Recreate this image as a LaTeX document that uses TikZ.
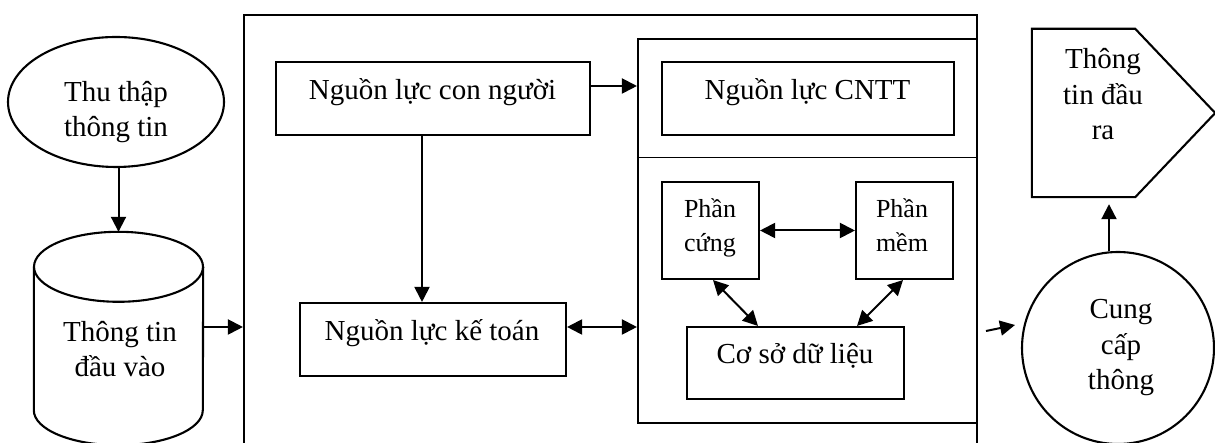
\documentclass[tikz,border=0pt]{standalone}
\usepackage{fontspec}
\setmainfont{Liberation Serif}
\usetikzlibrary{arrows.meta,shapes.geometric,calc}
\begin{document}
\begin{tikzpicture}[x=1pt,y=1pt,
  line join=miter,
  outline/.style={draw, line width=2.1pt},
  box/.style={outline, rectangle, inner sep=0pt},
  frame/.style={rectangle, inner sep=0pt},
  txt/.style={font=\fontsize{29}{35.5}\selectfont, align=center, anchor=base, inner sep=0pt},
  smalltxt/.style={font=\fontsize{26}{34}\selectfont, align=center, anchor=base, inner sep=0pt},
  tip/.tip={Triangle[length=15pt,width=15pt]},
  arr/.style={line width=2pt, -tip},
  darr/.style={line width=2pt, tip-tip},
]
\useasboundingbox (0,0) rectangle (1215,443);
\clip (0,0) rectangle (1215,443);

% input side (multi-line labels sit on the baseline of their last line)
\node[outline, ellipse, minimum width=216, minimum height=130, inner sep=0pt] (ell) at (116,341) {};
\node[txt] (ellT) at (116,306) {Thu thập\\thông tin};

\node[frame, minimum width=169, minimum height=143] (cyl) at (118.5,104.5) {};
\draw[line width=2.1pt] (cyl.north) ellipse[x radius=84.5, y radius=35];
\draw[line width=2.1pt] (cyl.north west) -- (cyl.south west)
  arc[start angle=180, end angle=360, x radius=84.5, y radius=35] -- (cyl.north east);
\node[txt] (cylT) at (120,66) {Thông tin\\đầu vào};
\coordinate (cyltop) at ([yshift=35pt]cyl.north);

% system frame
\node[box, minimum width=733, minimum height=438] (outer) at (610.5,209) {};

\node[box, minimum width=314, minimum height=73] (nlcn) at (433,344.5) {};
\node[txt] (nlcnT) at (432.5,343) {Nguồn lực con người};
\node[box, minimum width=266, minimum height=73] (nlkt) at (433,103.5) {};
\node[txt] (nlktT) at (432,102) {Nguồn lực kế toán};

% IT resources
\node[box, minimum width=339, minimum height=384] (it) at (807.5,212) {};
\draw[line width=1pt] ($(it.west)+(0,73)$) -- ($(it.east)+(0,73)$);
\node[box, minimum width=292, minimum height=73] (cntt) at (808,344.5) {};
\node[txt] (cnttT) at (807.5,343) {Nguồn lực CNTT};
\node[box, minimum width=97, minimum height=97] (hc) at (710.5,212.5) {};
\node[smalltxt] (hcT) at (710,191) {Phần\\cứng};
\node[box, minimum width=97, minimum height=97] (hm) at (904.5,212.5) {};
\node[smalltxt] (hmT) at (902,191) {Phần\\mềm};
\node[box, minimum width=217, minimum height=72] (csdl) at (795.5,80) {};
\node[txt] (csdlT) at (795,79) {Cơ sở dữ liệu};

% output side
\node[outline, circle, minimum size=192, inner sep=0pt] (cgc) at (1118,95) {};
\node[txt] (cgcT) at (1121,53) {Cung\\cấp\\thông};
\node[frame, minimum width=103, minimum height=168] (pent) at (1083.5,330) {};
\draw[line width=2.1pt] (pent.north west) -- (pent.north east) -- ([xshift=80pt]pent.east)
  -- (pent.south east) -- (pent.south west) -- cycle;
\node[txt] (pentT) at (1103,303) {Thông\\tin đầu\\ra};

% connectors
\draw[arr] (cyltop |- ell.south) -- (cyltop);
\coordinate (inA) at ([yshift=11.5pt]cyl.east);
\draw[arr] (inA) -- (inA -| outer.west);
\coordinate (hrA) at ([yshift=12.5pt]nlcn.east);
\draw[arr] (hrA) -- (hrA -| it.west);
\coordinate (hrB) at ([xshift=-11pt]nlcn.south);
\draw[arr] (hrB) -- (hrB |- nlkt.north);
\coordinate (acA) at ([yshift=12.5pt]nlkt.east);
\draw[darr] (acA) -- (acA -| it.west);
\draw[darr] (hc.east) -- (hm.west);
\draw[darr] ([xshift=2.5pt]hc.south) -- ([xshift=-37.5pt]csdl.north);
\draw[darr] ([xshift=-1.5pt]hm.south) -- ([xshift=61.5pt]csdl.north);
\coordinate (outA) at (986,112);
\coordinate (outB) at (1015,118);
\draw[arr] (outA) -- (outB);
\coordinate (upA) at ([xshift=-9pt]cgc.north);
\draw[arr, shorten >=7pt] (upA) -- (upA |- pent.south);
\end{tikzpicture}
\end{document}
